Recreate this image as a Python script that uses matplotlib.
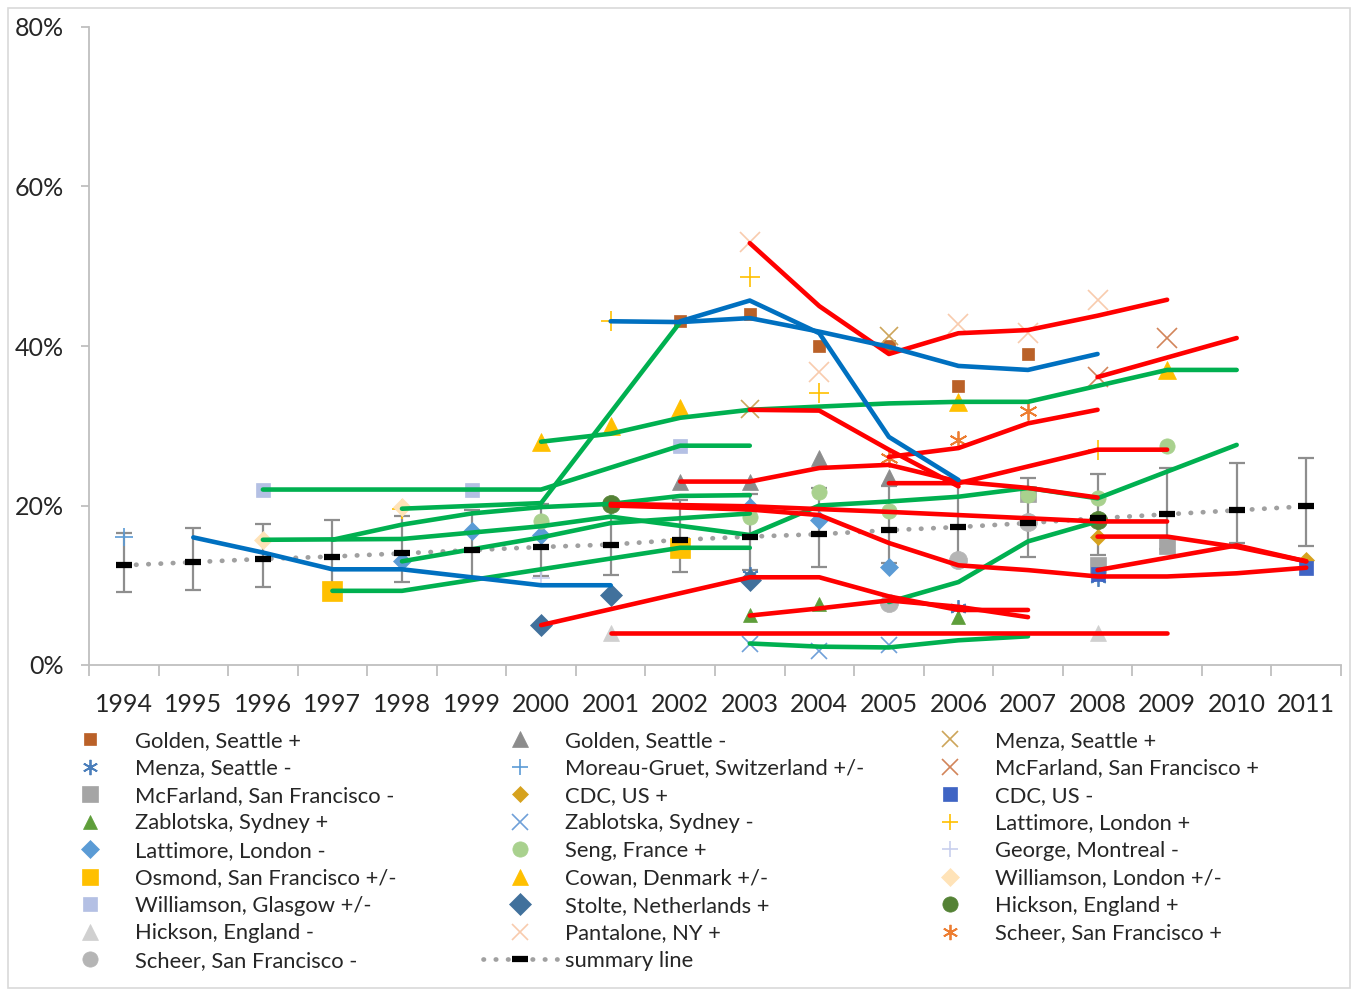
import matplotlib
matplotlib.use("Agg")
import matplotlib.pyplot as plt
from matplotlib.lines import Line2D
from matplotlib.patches import Rectangle
from matplotlib.ticker import FuncFormatter, FixedLocator

plt.rcParams["font.family"] = ["Lato", "DejaVu Sans"]

# ---------------------------------------------------------------- data
years = list(range(1994, 2012))

# pooled summary estimate with its confidence band (%)
summary_mid = [12.5, 12.9, 13.3, 13.6, 14.0, 14.4, 14.8, 15.1, 15.7, 16.1,
               16.4, 16.9, 17.3, 17.8, 18.4, 18.9, 19.4, 19.9]
summary_low = [9.2, 9.4, 9.8, 10.3, 10.4, 11.0, 11.1, 11.3, 11.6, 11.9,
               12.3, 12.8, 13.2, 13.5, 13.8, 14.5, 15.3, 14.9]
summary_high = [16.6, 17.2, 17.7, 18.2, 18.7, 19.4, 20.2, 20.5, 20.7, 21.4,
                22.2, 22.5, 22.9, 23.4, 24.0, 24.7, 25.3, 25.9]

# individual study estimates: label -> survey years / prevalence (%)
study_years = {
    "Golden, Seattle +": [2002, 2003, 2004, 2005, 2006, 2007],
    "Menza, Seattle -": [2003, 2006, 2008],
    "McFarland, San Francisco -": [2007, 2008, 2009],
    "Zablotska, Sydney +": [2003, 2004, 2006],
    "Lattimore, London -": [1998, 1999, 2000, 2003, 2004, 2005],
    "Osmond, San Francisco +/-": [1997, 2002],
    "Williamson, Glasgow +/-": [1996, 1999, 2002],
    "Hickson, England -": [2001, 2008],
    "Scheer, San Francisco -": [2005, 2006, 2007],
    "Golden, Seattle -": [2002, 2003, 2004, 2005],
    "Moreau-Gruet, Switzerland +/-": [1994],
    "CDC, US +": [2008, 2011],
    "Zablotska, Sydney -": [2003, 2004, 2005],
    "Seng, France +": [2000, 2003, 2004, 2005, 2007, 2008, 2009],
    "Cowan, Denmark +/-": [2000, 2001, 2002, 2006, 2009],
    "Stolte, Netherlands +": [2000, 2001, 2003],
    "Pantalone, NY +": [2003, 2004, 2006, 2007, 2008],
    "Menza, Seattle +": [2003, 2005],
    "McFarland, San Francisco +": [2008, 2009],
    "CDC, US -": [2008, 2011],
    "Lattimore, London +": [1998, 2001, 2003, 2004, 2008],
    "George, Montreal -": [2000],
    "Williamson, London +/-": [1996, 1998],
    "Hickson, England +": [2001, 2008],
    "Scheer, San Francisco +": [2005, 2006, 2007],
}
study_values = {
    "Golden, Seattle +": [43.1, 44.0, 40.0, 40.0, 35.0, 39.0],
    "Menza, Seattle -": [11.3, 7.2, 10.9],
    "McFarland, San Francisco -": [21.4, 12.6, 14.9],
    "Zablotska, Sydney +": [6.3, 7.6, 6.0],
    "Lattimore, London -": [13.0, 16.8, 16.3, 19.8, 18.2, 12.3],
    "Osmond, San Francisco +/-": [9.3, 14.7],
    "Williamson, Glasgow +/-": [22.0, 22.0, 27.4],
    "Hickson, England -": [4.0, 4.0],
    "Scheer, San Francisco -": [7.8, 13.2, 17.9],
    "Golden, Seattle -": [23.0, 23.0, 26.0, 23.6],
    "Moreau-Gruet, Switzerland +/-": [16.1],
    "CDC, US +": [16.0, 13.2],
    "Zablotska, Sydney -": [2.6, 1.8, 2.5],
    "Seng, France +": [18.0, 18.6, 21.7, 19.3, 21.3, 20.9, 27.5],
    "Cowan, Denmark +/-": [27.9, 30.0, 32.2, 33.0, 37.0],
    "Stolte, Netherlands +": [5.0, 8.8, 10.7],
    "Pantalone, NY +": [53.0, 36.8, 42.8, 41.6, 45.8],
    "Menza, Seattle +": [32.1, 41.2],
    "McFarland, San Francisco +": [36.1, 41.0],
    "CDC, US -": [11.4, 12.2],
    "Lattimore, London +": [19.6, 43.1, 48.7, 34.1, 27.0],
    "George, Montreal -": [10.9],
    "Williamson, London +/-": [15.7, 19.8],
    "Hickson, England +": [20.2, 18.2],
    "Scheer, San Francisco +": [26.0, 28.2, 31.8],
}

# fitted study trends, grouped by direction of change
rising_trends = [  # red
    ([2003, 2004, 2005, 2006, 2007, 2008, 2009], [52.9, 45.0, 39.0, 41.6, 42.0, 43.8, 45.8]),
    ([2003, 2004, 2005, 2006], [32.0, 31.9, 27.0, 22.4]),
    ([2005, 2006, 2007, 2008], [26.1, 27.2, 30.3, 32.0]),
    ([2008, 2010], [36.1, 41.0]),
    ([2002, 2003, 2004, 2005, 2006, 2007, 2008], [23.0, 23.0, 24.7, 25.1, 23.0, 22.2, 21.0]),
    ([2005, 2006, 2007, 2008, 2009], [22.8, 22.8, 24.9, 27.0, 27.0]),
    ([2001, 2003, 2005, 2008, 2009], [20.2, 19.9, 19.2, 18.0, 18.0]),
    ([2001, 2003, 2004, 2005, 2006, 2007, 2008, 2009, 2010, 2011],
     [20.0, 19.5, 18.8, 15.3, 12.5, 11.9, 11.1, 11.1, 11.5, 12.2]),
    ([2008, 2009, 2010, 2011], [16.1, 16.1, 14.8, 13.0]),
    ([2008, 2010, 2011], [11.9, 15.0, 13.0]),
    ([2000, 2003, 2004, 2005, 2006, 2007], [5.0, 11.0, 11.0, 8.6, 6.9, 6.9]),
    ([2003, 2004, 2005, 2006, 2007], [6.2, 7.1, 8.1, 7.3, 6.0]),
    ([2001, 2009], [4.0, 4.0]),
]
stable_trends = [  # green
    ([1996, 2000, 2002, 2003], [22.0, 22.0, 27.5, 27.5]),
    ([1998, 2000, 2002], [19.6, 20.3, 43.0]),
    ([2000, 2001, 2002, 2003, 2004, 2005, 2006, 2007, 2008, 2009, 2010],
     [28.0, 29.0, 31.0, 32.0, 32.4, 32.8, 33.0, 33.0, 35.0, 37.0, 37.0]),
    ([1997, 1998, 1999, 2000, 2001, 2002, 2003], [15.7, 17.6, 19.0, 19.8, 20.2, 21.2, 21.3]),
    ([1996, 1998, 2000, 2001, 2003, 2004, 2005, 2006, 2007, 2008, 2010],
     [15.7, 15.8, 17.4, 18.6, 16.3, 20.0, 20.5, 21.1, 22.2, 20.9, 27.6]),
    ([1998, 2000, 2001, 2003], [13.0, 16.0, 17.8, 19.0]),
    ([1997, 1998, 2002, 2003], [9.3, 9.3, 14.7, 14.7]),
    ([2003, 2004, 2005, 2006, 2007], [2.7, 2.3, 2.2, 3.1, 3.6]),
    ([2005, 2006, 2007, 2008], [7.9, 10.4, 15.5, 18.0]),
]
falling_trends = [  # blue
    ([2001, 2002, 2003, 2004, 2005, 2006, 2007, 2008], [43.1, 43.0, 43.5, 41.8, 39.9, 37.5, 37.0, 39.0]),
    ([2002, 2003, 2004, 2005, 2006], [43.1, 45.7, 41.6, 28.6, 23.2]),
    ([1995, 1996, 1997, 1998, 1999, 2000, 2001], [16.0, 14.1, 12.0, 12.0, 11.0, 10.0, 10.0]),
]

# ---------------------------------------------------------------- styles
ASTERISK = (6, 2, 0)
marker_style = {
    "Golden, Seattle +": ("s", "#BA6128", 9, 1.0),
    "Menza, Seattle -": (ASTERISK, "#4A7EBB", 12, 1.3),
    "McFarland, San Francisco -": ("s", "#A5A5A5", 11, 1.0),
    "Zablotska, Sydney +": ("^", "#5E9E3A", 10, 1.0),
    "Lattimore, London -": ("D", "#5B9BD5", 9, 1.0),
    "Osmond, San Francisco +/-": ("s", "#FFC000", 14, 1.0),
    "Williamson, Glasgow +/-": ("s", "#B4C0E4", 10, 1.0),
    "Hickson, England -": ("^", "#D0D0D0", 12, 1.0),
    "Scheer, San Francisco -": ("o", "#B5B5B5", 13, 1.0),
    "Golden, Seattle -": ("^", "#8C8C8C", 12, 1.0),
    "Moreau-Gruet, Switzerland +/-": ("+", "#5B9BD5", 13, 1.2),
    "CDC, US +": ("D", "#D6A21E", 8, 1.0),
    "Zablotska, Sydney -": ("x", "#6FA0D8", 12, 1.2),
    "Seng, France +": ("o", "#A9D18E", 11, 1.0),
    "Cowan, Denmark +/-": ("^", "#FFC000", 13, 1.0),
    "Stolte, Netherlands +": ("D", "#41719C", 11, 1.0),
    "Pantalone, NY +": ("x", "#F8CBAD", 14, 1.2),
    "Menza, Seattle +": ("x", "#CDA55A", 13, 1.2),
    "McFarland, San Francisco +": ("x", "#D2855A", 14, 1.2),
    "CDC, US -": ("s", "#3F64C4", 10, 1.0),
    "Lattimore, London +": ("+", "#FFC000", 14, 1.2),
    "George, Montreal -": ("+", "#C8CFEE", 13, 1.2),
    "Williamson, London +/-": ("D", "#FFE3B8", 9, 1.0),
    "Hickson, England +": ("o", "#548235", 13, 1.0),
    "Scheer, San Francisco +": (ASTERISK, "#ED7D31", 13, 1.3),
}
LINE_MARKERS = {"x", "+", ASTERISK}

legend_columns = [
    ["Golden, Seattle +", "Menza, Seattle -", "McFarland, San Francisco -",
     "Zablotska, Sydney +", "Lattimore, London -", "Osmond, San Francisco +/-",
     "Williamson, Glasgow +/-", "Hickson, England -", "Scheer, San Francisco -"],
    ["Golden, Seattle -", "Moreau-Gruet, Switzerland +/-", "CDC, US +",
     "Zablotska, Sydney -", "Seng, France +", "Cowan, Denmark +/-",
     "Stolte, Netherlands +", "Pantalone, NY +", "summary line"],
    ["Menza, Seattle +", "McFarland, San Francisco +", "CDC, US -",
     "Lattimore, London +", "George, Montreal -", "Williamson, London +/-",
     "Hickson, England +", "Scheer, San Francisco +"],
]

AXIS_GREY = "#BFBFBF"
TEXT = "#262626"

# ---------------------------------------------------------------- figure
W, H = 1354, 992
fig = plt.figure(figsize=(W / 100, H / 100), dpi=100)
fig.patches.append(Rectangle((8 / W, 1 - 988 / H), 1342 / W, 980 / H,
                             transform=fig.transFigure, fill=False,
                             edgecolor="#D9D9D9", lw=1.2))
ax = fig.add_axes([89 / W, 1 - 665 / H, (1341 - 89) / W, (665 - 27) / H])


def marker_kwargs(label):
    m, c, ms, mew = marker_style[label]
    kw = dict(marker=m, markersize=ms, linestyle="none")
    if m in LINE_MARKERS:
        kw.update(color=c, markeredgecolor=c, markeredgewidth=mew)
    else:
        kw.update(color=c, markerfacecolor=c, markeredgecolor=c, markeredgewidth=0.5)
    return kw


# summary confidence bars and dotted line
mid = summary_mid
err = [[m - lo for m, lo in zip(mid, summary_low)],
       [hi - m for m, hi in zip(mid, summary_high)]]
ax.errorbar(years, mid, yerr=err, fmt="none", ecolor="#8E8E8E",
            elinewidth=1.6, capsize=5.5, capthick=1.6, zorder=1)
ax.plot(years, mid, color="#A0A0A0", lw=3.4, linestyle=(0, (0.1, 2.5)),
        dash_capstyle="round", zorder=1.5)

# study estimates
for label, yrs in study_years.items():
    ax.plot(yrs, study_values[label], zorder=2, **marker_kwargs(label))

# study trends
for group, colour in ((stable_trends, "#00B050"), (rising_trends, "#FF0000"),
                      (falling_trends, "#0070C0")):
    for yrs, vals in group:
        ax.plot(yrs, vals, color=colour, lw=3.3, solid_capstyle="round",
                solid_joinstyle="round", zorder=3)

ax.plot(years, mid, linestyle="none", marker="_", color="black",
        markersize=12, markeredgewidth=4.5, zorder=4)

# axes
ax.set_xlim(1993.5, 2011.5)
ax.set_ylim(0, 80)
for side in ("top", "right"):
    ax.spines[side].set_visible(False)
for side in ("left", "bottom"):
    ax.spines[side].set_color(AXIS_GREY)
    ax.spines[side].set_linewidth(1.3)

ax.xaxis.set_major_locator(FixedLocator(years))
ax.xaxis.set_minor_locator(FixedLocator([y + 0.5 for y in range(1993, 2012)]))
ax.tick_params(axis="x", which="major", length=0, pad=20, labelsize=18,
               labelcolor=TEXT)
ax.tick_params(axis="x", which="minor", length=8, width=1.3, color=AXIS_GREY,
               direction="out")
ax.set_yticks([0, 20, 40, 60, 80])
ax.yaxis.set_major_formatter(FuncFormatter(lambda v, _: f"{v:.0f}%"))
ax.tick_params(axis="y", length=6, width=1.3, color=AXIS_GREY, pad=12,
               labelsize=18, labelcolor=TEXT)

# legend, one block per column
summary_handle = Line2D([], [], color="#A0A0A0", lw=3.4,
                        linestyle=(0, (0.1, 2.5)), dash_capstyle="round",
                        marker="_", markersize=12, markeredgewidth=4.5,
                        markeredgecolor="black", markerfacecolor="black")
LEGEND_FS = 15.8
col_x = [53, 483, 913]
for cx, labels in zip(col_x, legend_columns):
    handles = []
    for lab in labels:
        if lab == "summary line":
            handles.append(summary_handle)
        else:
            kw = marker_kwargs(lab)
            kw["markersize"] = min(kw["markersize"], 11)
            handles.append(Line2D([], [], **kw))
    fig.legend(handles, labels, loc="upper left",
               bbox_to_anchor=(cx / W, 1 - 731 / H), frameon=False,
               fontsize=LEGEND_FS, labelcolor=TEXT, handlelength=3.37,
               handletextpad=0.38, labelspacing=0.34, borderpad=0,
               borderaxespad=0, numpoints=1)

fig.savefig("out.png", dpi=100)
